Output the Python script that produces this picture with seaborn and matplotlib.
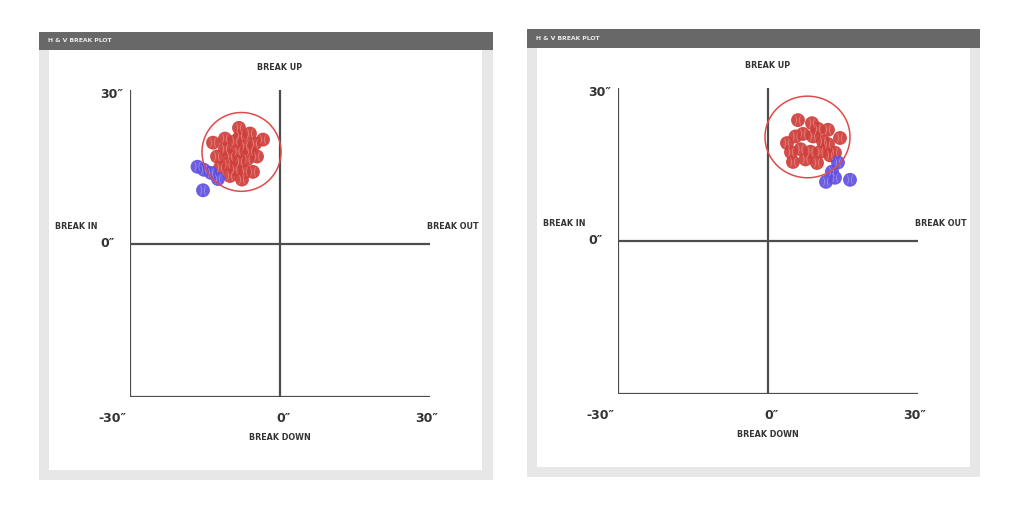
import matplotlib
matplotlib.use("Agg")
import matplotlib.pyplot as plt
from matplotlib.patches import Rectangle, Ellipse
import seaborn as sns
import pandas as pd

# ---------------- data ----------------
left_red_x = [-8.2, -3.4, -13.4, -12.6, -12.0, -7.6, -4.6, -5.4, -9.0, -7.0, -10.0, -8.0,
              -6.0, -9.0, -7.0, -11.0, -5.0, -8.5, -10.5, -6.5, -8.0, -6.0, -11.0, -10.0]
left_red_y = [22.6, 20.3, 19.7, 17.0, 14.8, 12.5, 17.0, 14.0, 20.0, 19.0, 17.0, 16.0,
              18.0, 14.5, 14.0, 18.5, 19.5, 18.0, 15.5, 16.5, 21.0, 21.5, 20.5, 13.2]
left_blue_x = [-16.5, -15.2, -13.8, -12.4, -15.4]
left_blue_y = [15.0, 14.4, 13.8, 12.6, 10.4]

right_red_x = [6.0, 8.8, 12.0, 14.4, 13.4, 9.8, 5.0, 3.8, 7.0, 9.0, 11.0, 6.5,
               8.5, 10.5, 12.0, 7.5, 5.5, 10.0, 12.4, 4.6]
right_red_y = [23.7, 23.1, 21.8, 20.2, 17.3, 15.3, 15.5, 19.2, 21.0, 20.5, 19.5, 18.0,
               17.5, 17.5, 19.0, 16.0, 20.5, 22.0, 16.8, 17.4]
right_blue_x = [14.0, 12.8, 11.6, 13.4, 16.4]
right_blue_y = [15.4, 13.6, 11.6, 12.4, 12.0]

# circle (center x, center y, radius x, radius y)
left_circle = (-7.7, 17.9, 7.9, 7.7)
right_circle = (7.9, 20.4, 8.5, 8.0)

x_ticks = ["-30″", "0″", "30″"]
y_ticks = ["30″", "0″"]
title = "H & V BREAK PLOT"
dir_labels = ["BREAK UP", "BREAK DOWN", "BREAK IN", "BREAK OUT"]

palette = {"Fastball": "#cf3e3a", "Breaking": "#5f4fe0"}
seam = {"Fastball": "#e9908c", "Breaking": "#a79ff2"}

# ---------------- figure ----------------
sns.set_theme(style="white")
plt.rcParams["font.family"] = ["DejaVu Sans"]

W, H = 1024, 513
fig = plt.figure(figsize=(W / 100, H / 100), dpi=100)
fig.patch.set_facecolor("white")


def frect(x0, y0, x1, y1, color):
    fig.patches.append(Rectangle((x0 / W, 1 - y1 / H), (x1 - x0) / W, (y1 - y0) / H,
                                 transform=fig.transFigure, facecolor=color,
                                 edgecolor="none", zorder=-10))


def panel(frame, axbox, rx, ry, bx, by, circ):
    ox0, oy0, ox1, oy1, bar_y1, ix0, ix1, iy1 = frame
    frect(ox0, oy0, ox1, oy1, "#e7e7e7")
    frect(ox0, oy0, ox1, bar_y1, "#686868")
    frect(ix0, bar_y1, ix1, iy1, "white")
    fig.text((ix0 - 1) / W, 1 - ((oy0 + bar_y1) / 2) / H, title, color="#ececec",
             fontsize=4.4, fontweight="bold", ha="left", va="center")

    ax0, ay0, ax1, ay1 = axbox
    ax = fig.add_axes([ax0 / W, 1 - ay1 / H, (ax1 - ax0) / W, (ay1 - ay0) / H])
    ax.set_zorder(5)
    ax.patch.set_visible(False)
    for s in ax.spines.values():
        s.set_visible(False)
    lc = "#4d4d4d"
    lw = 1.6
    ax.plot([-30, -30], [-30, 30], color=lc, lw=lw, solid_capstyle="butt", zorder=1)
    ax.plot([-30, 30], [-30, -30], color=lc, lw=lw, solid_capstyle="butt", zorder=1)
    ax.plot([0, 0], [-30, 30], color=lc, lw=lw, solid_capstyle="butt", zorder=1)
    ax.plot([-30, 30], [0, 0], color=lc, lw=lw, solid_capstyle="butt", zorder=1)

    df = pd.DataFrame({
        "x": list(rx) + list(bx),
        "y": list(ry) + list(by),
        "pitch": ["Fastball"] * len(rx) + ["Breaking"] * len(bx),
    })
    sns.scatterplot(data=df, x="x", y="y", hue="pitch", palette=palette, s=100,
                    alpha=0.92, edgecolor="none", linewidth=0, legend=False,
                    ax=ax, zorder=3)
    # baseball seam texture
    sns.scatterplot(data=df, x="x", y="y", hue="pitch", palette=seam, s=45,
                    marker="$)($", alpha=0.7, linewidth=0, legend=False,
                    ax=ax, zorder=3.5)
    ax.set_xlabel("")
    ax.set_ylabel("")
    ax.set_xticks([])
    ax.set_yticks([])
    ax.set_xlim(-30, 30)
    ax.set_ylim(-30, 30)

    cx, cy, crx, cry = circ
    ax.add_patch(Ellipse((cx, cy), 2 * crx, 2 * cry, fill=False,
                         edgecolor="#e04a4a", lw=1.1, zorder=4))

    tc = "#333333"
    fs = 9.0
    ax.text(-36, 29.2, y_ticks[0], ha="left", va="center", fontsize=fs,
            fontweight="bold", color=tc, clip_on=False)
    ax.text(-36, 0, y_ticks[1], ha="left", va="center", fontsize=fs,
            fontweight="bold", color=tc, clip_on=False)
    for xv, lab in zip([-33.6, 0.8, 29.4], x_ticks):
        ax.text(xv, -34.2, lab, ha="center", va="center", fontsize=fs,
                fontweight="bold", color=tc, clip_on=False)

    lf = 5.8
    ax.text(0, 34.4, dir_labels[0], ha="center", va="center", fontsize=lf,
            fontweight="bold", color=tc, clip_on=False)
    ax.text(0, -38.0, dir_labels[1], ha="center", va="center", fontsize=lf,
            fontweight="bold", color=tc, clip_on=False)
    ax.text(-40.7, 3.4, dir_labels[2], ha="center", va="center", fontsize=lf,
            fontweight="bold", color=tc, clip_on=False)
    ax.text(34.6, 3.4, dir_labels[3], ha="center", va="center", fontsize=lf,
            fontweight="bold", color=tc, clip_on=False)
    return ax


panel((39, 32, 493, 480, 50, 49, 482, 470), (130, 90, 430, 397),
      left_red_x, left_red_y, left_blue_x, left_blue_y, left_circle)
panel((527, 29, 980, 477, 48, 537, 970, 467), (618, 88, 918, 394),
      right_red_x, right_red_y, right_blue_x, right_blue_y, right_circle)

fig.savefig("out.png", dpi=100, facecolor="white")
